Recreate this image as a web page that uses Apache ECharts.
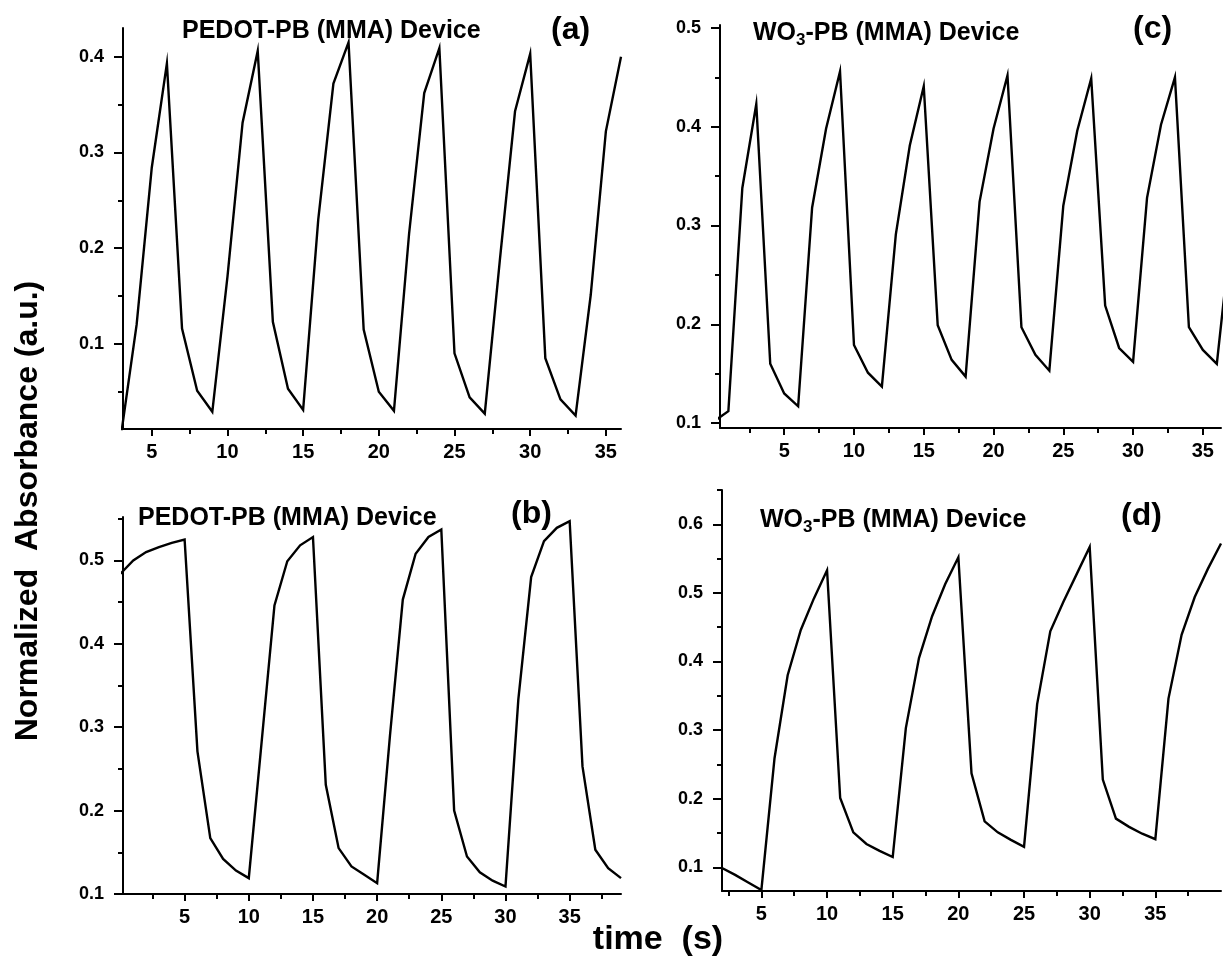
<!DOCTYPE html>
<html>
<head>
<meta charset="utf-8">
<script src="https://cdn.jsdelivr.net/npm/echarts@6/dist/echarts.min.js"></script>
<style>
  html, body { margin: 0; padding: 0; background: #fff; }
  #chart { width: 1224px; height: 958px; }
</style>
</head>
<body>
<div id="chart"></div>
<script>
// (a) PEDOT-PB (MMA) device, 3 s switching
const timeA = [3, 4, 5, 6, 7, 8, 9, 10, 11, 12, 13, 14, 15, 16, 17, 18, 19, 20, 21, 22, 23, 24, 25, 26, 27, 28, 29, 30, 31, 32, 33, 34, 35, 36];
const absA = [0.008, 0.120, 0.284, 0.393, 0.116, 0.051, 0.029, 0.170, 0.331, 0.406, 0.123, 0.053, 0.031, 0.230, 0.372, 0.415, 0.115, 0.050, 0.030, 0.215, 0.362, 0.409, 0.090, 0.044, 0.027, 0.188, 0.343, 0.403, 0.085, 0.042, 0.025, 0.151, 0.322, 0.400];

// (b) PEDOT-PB (MMA) device, 5 s switching
const timeB = [0, 1, 2, 3, 4, 5, 6, 7, 8, 9, 10, 11, 12, 13, 14, 15, 16, 17, 18, 19, 20, 21, 22, 23, 24, 25, 26, 27, 28, 29, 30, 31, 32, 33, 34, 35, 36, 37, 38, 39];
const absB = [0.484, 0.500, 0.510, 0.516, 0.521, 0.525, 0.271, 0.167, 0.142, 0.128, 0.119, 0.282, 0.446, 0.499, 0.518, 0.528, 0.231, 0.155, 0.133, 0.123, 0.113, 0.290, 0.453, 0.508, 0.528, 0.537, 0.200, 0.145, 0.126, 0.116, 0.109, 0.333, 0.480, 0.523, 0.539, 0.547, 0.253, 0.153, 0.131, 0.119];

// (c) WO3-PB (MMA) device, 3 s switching
const timeC = [0, 1, 2, 3, 4, 5, 6, 7, 8, 9, 10, 11, 12, 13, 14, 15, 16, 17, 18, 19, 20, 21, 22, 23, 24, 25, 26, 27, 28, 29, 30, 31, 32, 33, 34, 35, 36, 37];
const absC = [0.102, 0.112, 0.338, 0.423, 0.160, 0.130, 0.117, 0.318, 0.398, 0.456, 0.179, 0.151, 0.137, 0.291, 0.381, 0.441, 0.199, 0.164, 0.147, 0.324, 0.398, 0.452, 0.197, 0.169, 0.153, 0.320, 0.396, 0.449, 0.219, 0.176, 0.162, 0.328, 0.402, 0.450, 0.197, 0.174, 0.160, 0.290];

// (d) WO3-PB (MMA) device, 5 s switching
const timeD = [2, 3, 4, 5, 6, 7, 8, 9, 10, 11, 12, 13, 14, 15, 16, 17, 18, 19, 20, 21, 22, 23, 24, 25, 26, 27, 28, 29, 30, 31, 32, 33, 34, 35, 36, 37, 38, 39, 40];
const absD = [0.099, 0.089, 0.078, 0.067, 0.259, 0.380, 0.446, 0.492, 0.533, 0.201, 0.151, 0.134, 0.124, 0.115, 0.303, 0.405, 0.466, 0.513, 0.552, 0.237, 0.167, 0.151, 0.140, 0.130, 0.338, 0.444, 0.487, 0.527, 0.567, 0.228, 0.171, 0.159, 0.149, 0.141, 0.346, 0.439, 0.494, 0.535, 0.572];

// Tick values
const timeTicks = [5, 10, 15, 20, 25, 30, 35];
const timeMinorTicks = [2.5, 7.5, 12.5, 17.5, 22.5, 27.5, 32.5, 37.5];
const absTicksA = [0.1, 0.2, 0.3, 0.4];
const absTicksB = [0.1, 0.2, 0.3, 0.4, 0.5];
const absTicksC = [0.1, 0.2, 0.3, 0.4, 0.5];
const absTicksD = [0.1, 0.2, 0.3, 0.4, 0.5, 0.6];
const absMinorTicks = [0.05, 0.15, 0.25, 0.35, 0.45, 0.55, 0.65];

const FONT = '"Liberation Sans", Arial, Helvetica, sans-serif';

const panels = [
  { grid: { left: 123, top: 28, width: 498, height: 401 }, x: [3.1, 36], y: [0.011, 0.43], yTicks: absTicksA, t: timeA, v: absA },
  { grid: { left: 123, top: 517, width: 498, height: 377 }, x: [0.2, 39], y: [0.1, 0.552], yTicks: absTicksB, t: timeB, v: absB },
  { grid: { left: 720, top: 25, width: 501, height: 403 }, x: [0.4, 36.3], y: [0.095, 0.503], yTicks: absTicksC, t: timeC, v: absC },
  { grid: { left: 722, top: 490, width: 499, height: 401 }, x: [2, 40], y: [0.0655, 0.65], yTicks: absTicksD, t: timeD, v: absD }
];

const within = (vals, r) => vals.filter(v => v >= r[0] - 1e-9 && v <= r[1] + 1e-9);
const black = '#000';

const grids = [], xAxes = [], yAxes = [], series = [];
panels.forEach((p, i) => {
  grids.push(Object.assign({ containLabel: false }, p.grid));
  const xMaj = within(timeTicks, p.x), xMin = within(timeMinorTicks, p.x);
  const yMaj = within(p.yTicks, p.y), yMin = within(absMinorTicks, p.y);
  // labelled axes
  xAxes.push({
    type: 'value', gridIndex: i, position: 'bottom', min: p.x[0], max: p.x[1],
    axisLine: { show: true, onZero: false, lineStyle: { color: black, width: 2 } },
    axisTick: { show: true, inside: false, length: 7, customValues: xMaj, lineStyle: { color: black, width: 2 } },
    axisLabel: { show: true, customValues: xMaj, margin: 13, color: black, fontSize: 20, fontWeight: 'bold', fontFamily: FONT },
    splitLine: { show: false }
  });
  yAxes.push({
    type: 'value', gridIndex: i, position: 'left', min: p.y[0], max: p.y[1],
    axisLine: { show: true, onZero: false, lineStyle: { color: black, width: 2 } },
    axisTick: { show: true, inside: false, length: 9, customValues: yMaj, lineStyle: { color: black, width: 2 } },
    axisLabel: { show: true, customValues: yMaj, margin: 19, color: black, fontSize: 18, fontWeight: 'bold', fontFamily: FONT,
                 formatter: v => v.toFixed(1) },
    splitLine: { show: false }
  });
  // minor-tick axes
  xAxes.push({
    type: 'value', gridIndex: i, position: 'bottom', min: p.x[0], max: p.x[1],
    axisLine: { show: false },
    axisTick: { show: true, inside: false, length: 5, customValues: xMin, lineStyle: { color: black, width: 2 } },
    axisLabel: { show: false }, splitLine: { show: false }
  });
  yAxes.push({
    type: 'value', gridIndex: i, position: 'left', min: p.y[0], max: p.y[1],
    axisLine: { show: false },
    axisTick: { show: true, inside: false, length: 5, customValues: yMin, lineStyle: { color: black, width: 2 } },
    axisLabel: { show: false }, splitLine: { show: false }
  });
  series.push({
    type: 'line', xAxisIndex: 2 * i, yAxisIndex: 2 * i,
    data: p.t.map((t, k) => [t, p.v[k]]),
    showSymbol: false, symbol: 'none', clip: true,
    lineStyle: { color: black, width: 2.4, join: 'miter' }
  });
});

const titleFont = { fontSize: 25, fontWeight: 'bold', fontFamily: FONT, fill: black };
const tagFont = { fontSize: 32, fontWeight: 'bold', fontFamily: FONT, fill: black };
const wo3Rich = {
  m: { fontSize: 25, fontWeight: 'bold', fontFamily: FONT, color: black },
  s: { fontSize: 17, fontWeight: 'bold', fontFamily: FONT, color: black, padding: [15, 0, 0, 0] }
};

function txt(x, y, text, style, extra) {
  return Object.assign({ type: 'text', x: x, y: y, silent: true,
    style: Object.assign({ text: text, align: 'left', verticalAlign: 'middle' }, style) }, extra || {});
}

const graphics = [
  txt(182, 31, 'PEDOT-PB (MMA) Device', titleFont),
  txt(551, 30, '(a)', tagFont),
  txt(138, 518, 'PEDOT-PB (MMA) Device', titleFont),
  txt(511, 514, '(b)', tagFont),
  txt(753, 33, '{m|WO}{s|3}{m|-PB (MMA) Device}', { rich: wo3Rich }),
  txt(1133, 29, '(c)', tagFont),
  txt(760, 520, '{m|WO}{s|3}{m|-PB (MMA) Device}', { rich: wo3Rich }),
  txt(1121, 516, '(d)', tagFont),
  txt(28, 511, 'Normalized  Absorbance (a.u.)', { fontSize: 32, fontWeight: 'bold', fontFamily: FONT, fill: black, align: 'center' },
      { rotation: Math.PI / 2 }),
  txt(658, 940, 'time  (s)', { fontSize: 34, fontWeight: 'bold', fontFamily: FONT, fill: black, align: 'center' })
];

const chart = echarts.init(document.getElementById('chart'), null, { renderer: 'canvas' });
chart.setOption({
  animation: false,
  backgroundColor: '#fff',
  grid: grids,
  xAxis: xAxes,
  yAxis: yAxes,
  series: series,
  graphic: graphics
});
</script>
</body>
</html>
